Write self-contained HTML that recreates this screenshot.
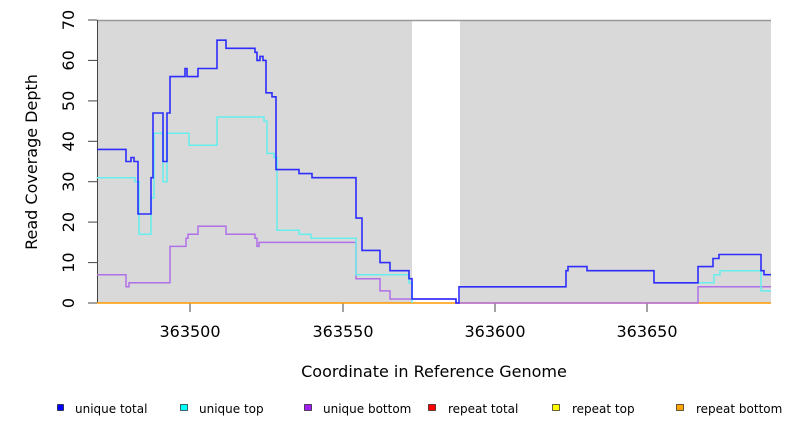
<!DOCTYPE html>
<html><head><meta charset="utf-8"><style>body{margin:0;background:#fff}svg{display:block}text{font-family:"DejaVu Sans","Liberation Sans",sans-serif}</style></head><body>
<svg width="792" height="432" viewBox="0 0 792 432" xmlns="http://www.w3.org/2000/svg">
<rect x="97" y="20" width="315" height="283" fill="#d9d9d9"/>
<rect x="460" y="20" width="311" height="283" fill="#d9d9d9"/>
<line x1="97" y1="20.5" x2="771" y2="20.5" stroke="#999" stroke-width="1.5"/>
<line x1="97.5" y1="20" x2="97.5" y2="303" stroke="#444" stroke-width="1"/>
<g stroke="#444" stroke-width="1">
<line x1="88" y1="303" x2="97" y2="303"/><line x1="88" y1="262.6" x2="97" y2="262.6"/><line x1="88" y1="222.1" x2="97" y2="222.1"/><line x1="88" y1="181.7" x2="97" y2="181.7"/><line x1="88" y1="141.3" x2="97" y2="141.3"/><line x1="88" y1="100.9" x2="97" y2="100.9"/><line x1="88" y1="60.4" x2="97" y2="60.4"/><line x1="88" y1="20" x2="97" y2="20"/>
<line x1="190" y1="303" x2="190" y2="312"/><line x1="343" y1="303" x2="343" y2="312"/><line x1="495" y1="303" x2="495" y2="312"/><line x1="647" y1="303" x2="647" y2="312"/>
</g>
<g font-size="16" fill="#000" text-anchor="middle">
<text transform="translate(74,303) rotate(-90)">0</text>
<text transform="translate(74,262.6) rotate(-90)">10</text>
<text transform="translate(74,222.1) rotate(-90)">20</text>
<text transform="translate(74,181.7) rotate(-90)">30</text>
<text transform="translate(74,141.3) rotate(-90)">40</text>
<text transform="translate(74,100.9) rotate(-90)">50</text>
<text transform="translate(74,60.4) rotate(-90)">60</text>
<text transform="translate(74,20) rotate(-90)">70</text>
<text x="190" y="337">363500</text><text x="343" y="337">363550</text><text x="495" y="337">363600</text><text x="647" y="337">363650</text>
<text x="434" y="377">Coordinate in Reference Genome</text>
<text transform="translate(37,162) rotate(-90)">Read Coverage Depth</text>
</g>
<line x1="97" y1="303" x2="771" y2="303" stroke="#f90" stroke-width="1.5"/>
<polyline fill="none" stroke="#b070e8" stroke-width="1.5" points="97,274.7 126,274.7 126,286.8 129,286.8 129,282.8 170,282.8 170,246.4 186,246.4 186,238.3 188,238.3 188,234.3 198,234.3 198,226.2 226,226.2 226,234.3 255,234.3 255,238.3 257,238.3 257,246.4 259,246.4 259,242.4 356,242.4 356,278.7 380,278.7 380,290.9 390,290.9 390,299 456,299 456,303 698,303 698,286.8 771,286.8"/>
<polyline fill="none" stroke="#66eeee" stroke-width="1.5" points="97,177.7 135,177.7 135,181.7 139,181.7 139,234.3 151,234.3 151,198 154,198 154,133.2 163,133.2 163,181.7 167,181.7 167,133.2 189,133.2 189,145.3 217,145.3 217,117 264,117 264,121.1 267,121.1 267,153.4 274,153.4 274,157.5 277,157.5 277,230.2 299,230.2 299,234.3 311,234.3 311,238.3 356,238.3 356,274.7 409,274.7 409,282.8 412,282.8 412,303"/>
<polyline fill="none" stroke="#66eeee" stroke-width="1.5" points="698,282.8 714,282.8 714,274.7 720,274.7 720,270.7 761,270.7 761,290.9 771,290.9"/>
<polyline fill="none" stroke="#1a1aff" stroke-width="1.6" stroke-opacity="0.9" points="97,149.4 126,149.4 126,161.5 131,161.5 131,157.5 134,157.5 134,161.5 138,161.5 138,214 151,214 151,177.7 153,177.7 153,113 163,113 163,161.5 167,161.5 167,113 170,113 170,76.6 185,76.6 185,68.5 187,68.5 187,76.6 198,76.6 198,68.5 217,68.5 217,40.2 226,40.2 226,48.3 255,48.3 255,52.3 257,52.3 257,60.4 260,60.4 260,56.4 263,56.4 263,60.4 266,60.4 266,92.8 272,92.8 272,96.8 276,96.8 276,169.6 299,169.6 299,173.6 312,173.6 312,177.7 356,177.7 356,218.1 362,218.1 362,250.4 380,250.4 380,262.6 390,262.6 390,270.7 409,270.7 409,278.7 412,278.7 412,299 456,299 456,303 459,303 459,286.8 566,286.8 566,270.7 568,270.7 568,266.6 587,266.6 587,270.7 654,270.7 654,282.8 698,282.8 698,266.6 713,266.6 713,258.5 719,258.5 719,254.5 761,254.5 761,270.7 764,270.7 764,274.7 771,274.7"/>
<g font-size="12" fill="#000">
<rect x="57.5" y="404.5" width="6" height="6" fill="#00f" stroke="#000" stroke-width="0.6"/><text x="75" y="413">unique total</text>
<rect x="180.5" y="404.5" width="7" height="6" fill="#0ff" stroke="#000" stroke-width="0.6"/><text x="199" y="413">unique top</text>
<rect x="304.5" y="404.5" width="7" height="6" fill="#a020f0" stroke="#000" stroke-width="0.6"/><text x="323" y="413">unique bottom</text>
<rect x="428.5" y="404.5" width="7" height="6" fill="#f00" stroke="#000" stroke-width="0.6"/><text x="448" y="413">repeat total</text>
<rect x="552.5" y="404.5" width="7" height="6" fill="#ff0" stroke="#000" stroke-width="0.6"/><text x="572" y="413">repeat top</text>
<rect x="676.5" y="404.5" width="7" height="6" fill="#ffa500" stroke="#000" stroke-width="0.6"/><text x="696" y="413">repeat bottom</text>
</g>
</svg>
</body></html>
